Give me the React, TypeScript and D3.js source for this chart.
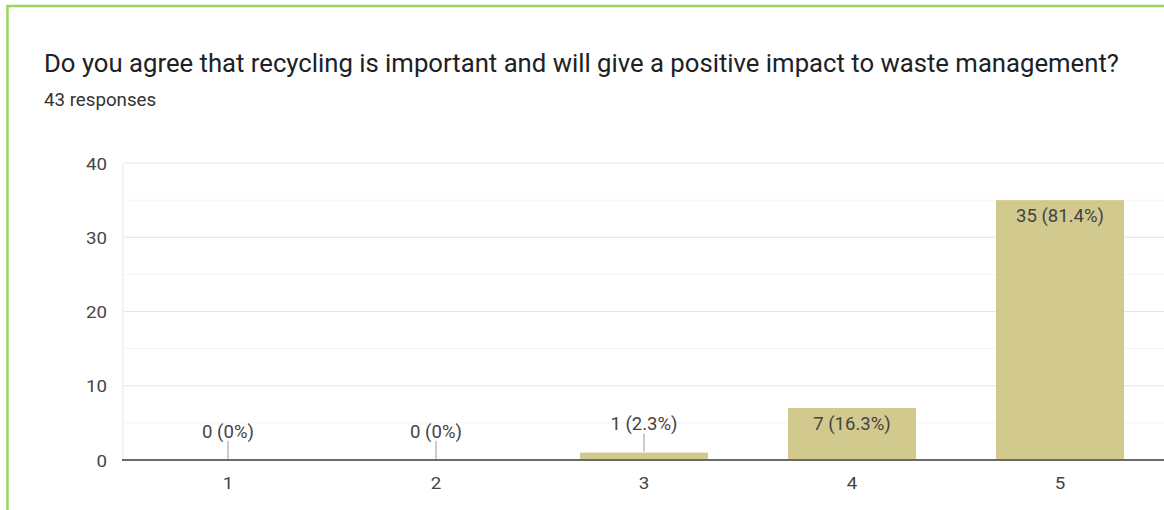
import React from "react";
import * as d3 from "d3";

const categories = ["1", "2", "3", "4", "5"];
const counts = [0, 0, 1, 7, 35];
const percentLabels = ["0%", "0%", "2.3%", "16.3%", "81.4%"];
const yTicks = [0, 10, 20, 30, 40];
const yMinorTicks = [5, 15, 25, 35];
const title = "Do you agree that recycling is important and will give a positive impact to waste management?";
const subtitle = "43 responses";

const W = 1164;
const H = 510;
const plotLeft = 124;
const plotRight = 1164;
const plotTop = 163;
const plotBottom = 460;
const font = "Roboto, Arial, sans-serif";

function T(props: {
  x: number;
  y: number;
  size: number;
  anchor?: string;
  fill?: string;
  sx?: number;
  children: React.ReactNode;
}) {
  const { x, y, size, anchor = "start", fill = "#444", sx = 1, children } = props;
  return (
    <text
      transform={`translate(${x},${y}) scale(${sx},1)`}
      textAnchor={anchor}
      fontFamily={font}
      fontSize={size}
      fill={fill}
    >
      {children}
    </text>
  );
}

export default function App() {
  const x = d3
    .scaleBand<string>()
    .domain(categories)
    .range([plotLeft, plotRight])
    .paddingInner(0.385)
    .paddingOuter(0.1925);
  const y = d3.scaleLinear().domain([0, 40]).range([plotBottom, plotTop]);
  const bw = x.bandwidth();

  return (
    <svg
      width={W}
      height={H}
      style={{ position: "absolute", left: 0, top: 0, background: "#fff" }}
    >
      <rect x={0} y={0} width={W} height={H} fill="#fff" />
      {/* green card border */}
      <rect x={7.5} y={6} width={W + 20} height={H + 20} fill="none" stroke="#9bd45c" strokeWidth={2.5} />
      <T x={44} y={72} size={25.7} fill="#202124">
        {title}
      </T>
      <T x={44} y={106} size={18} fill="#333" sx={1.04}>
        {subtitle}
      </T>
      {/* minor gridlines */}
      {yMinorTicks.map((t) => (
        <line key={"m" + t} x1={plotLeft} x2={plotRight} y1={y(t)} y2={y(t)} stroke="#f3f3f3" strokeWidth={1} />
      ))}
      {/* major gridlines */}
      {yTicks.filter((t) => t !== 0).map((t) => (
        <line key={"g" + t} x1={plotLeft} x2={plotRight} y1={y(t)} y2={y(t)} stroke="#e4e4e4" strokeWidth={1} />
      ))}
      {/* left faint axis */}
      <line x1={plotLeft - 1} x2={plotLeft - 1} y1={y(40)} y2={y(0)} stroke="#e6e6e6" strokeWidth={1} />
      {/* y tick labels */}
      {yTicks.map((t) => (
        <T key={"yl" + t} x={107} y={y(t) + 6.5} size={17} sx={1.1} anchor="end">
          {t}
        </T>
      ))}
      {/* bars */}
      {categories.map((c, i) => (
        <rect
          key={"b" + c}
          x={x(c)!}
          y={y(counts[i])}
          width={bw}
          height={plotBottom - y(counts[i])}
          fill="#d2c98f"
        />
      ))}
      {/* zero line */}
      <line x1={plotLeft - 2} x2={plotRight} y1={plotBottom} y2={plotBottom} stroke="#6b6b6b" strokeWidth={2} />
      {/* data labels */}
      {categories.map((c, i) => {
        const cx = x(c)! + bw / 2;
        const top = y(counts[i]);
        const label = `${counts[i]} (${percentLabels[i]})`;
        const inside = plotBottom - top > 30;
        if (inside) {
          return (
            <T key={"dl" + c} x={cx} y={top + 22} size={17.5} sx={1.06} anchor="middle">
              {label}
            </T>
          );
        }
        return (
          <g key={"dl" + c}>
            <line x1={cx} x2={cx} y1={top - 1} y2={top - 19} stroke="#999" strokeWidth={1} />
            <T x={cx} y={top - 22.5} size={17.5} sx={1.06} anchor="middle">
              {label}
            </T>
          </g>
        );
      })}
      {/* x tick labels */}
      {categories.map((c) => (
        <T key={"xl" + c} x={x(c)! + bw / 2} y={489} size={17} sx={1.1} anchor="middle">
          {c}
        </T>
      ))}
    </svg>
  );
}
